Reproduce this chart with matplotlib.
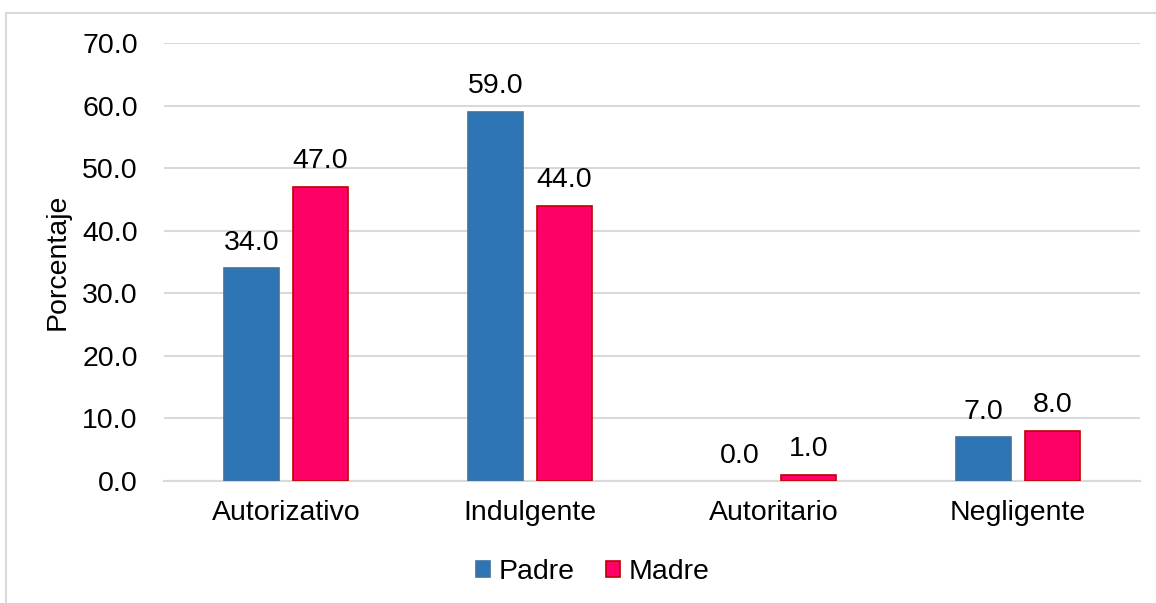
import numpy as np
import matplotlib.pyplot as plt
from matplotlib.patches import Rectangle

# Datos
categorias = ['Autorizativo', 'Indulgente', 'Autoritario', 'Negligente']
padre = [34.0, 59.0, 0.0, 7.0]
madre = [47.0, 44.0, 1.0, 8.0]
series = ['Padre', 'Madre']
ticks_y = [0, 10, 20, 30, 40, 50, 60, 70]

plt.rcParams['font.family'] = ['Liberation Sans', 'DejaVu Sans']

fig = plt.figure(figsize=(11.56, 6.03), dpi=100)
ax = fig.add_axes([0.1419, 0.2023, 0.8443, 0.7264])

# Marco exterior
fig.patches.append(Rectangle((6 / 1156, -0.1), 1.2, 1 - 13 / 603 + 0.1,
                             transform=fig.transFigure, fill=False,
                             edgecolor='#D9D9D9', linewidth=1.5))

x = np.arange(len(categorias))
ancho = 0.225
desp = 0.141

b1 = ax.bar(x - desp, padre, ancho, color='#2E75B6', edgecolor='#41719C',
            linewidth=1.2, label=series[0], zorder=3)
b2 = ax.bar(x + desp, madre, ancho, color='#FF0066', edgecolor='#C00000',
            linewidth=1.2, label=series[1], zorder=3)

for barras in (b1, b2):
    for r in barras:
        if r.get_height() == 0:
            r.set_linewidth(0)
    ax.bar_label(barras, fmt='%.1f', padding=9, fontsize=20.5, color='#000000')

ax.set_xlim(-0.5, len(categorias) - 0.5)
ax.set_ylim(0, 70)
ax.set_yticks(ticks_y)
ax.set_yticklabels([f'{v:.1f}' for v in ticks_y])
ax.set_xticks(x)
ax.set_xticklabels(categorias)
ax.tick_params(axis='both', length=0, labelsize=20.5)
ax.tick_params(axis='y', pad=19)
ax.tick_params(axis='x', pad=14)
ax.set_ylabel('Porcentaje', fontsize=20.5, labelpad=8)

ax.grid(axis='y', color='#D9D9D9', linewidth=1.5, zorder=0)
for s in ['top', 'right', 'left']:
    ax.spines[s].set_visible(False)
ax.spines['bottom'].set_color('#D9D9D9')
ax.spines['bottom'].set_linewidth(1.5)

fig.legend(handles=[b1, b2], labels=series, loc='center',
           bbox_to_anchor=(593 / 1156, 1 - 572 / 603), ncol=2,
           frameon=False, fontsize=20.5, handlelength=0.5, handleheight=0.5,
           handletextpad=0.3, columnspacing=1.1, borderpad=0)

fig.savefig('out.png', dpi=100)
